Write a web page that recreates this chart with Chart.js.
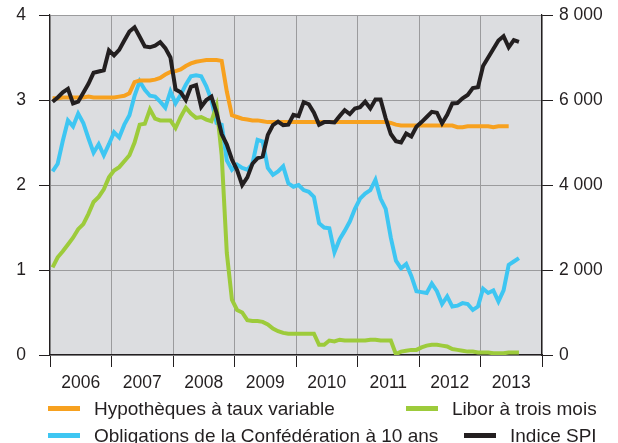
<!DOCTYPE html>
<html lang="fr">
<head>
<meta charset="UTF-8">
<title>Taux d'intérêt et indice SPI</title>
<style>
    body {
        margin: 0;
        background: #fff;
        font-family: 'Liberation Sans', Arial, sans-serif;
    }
    #wrap {
        position: relative;
        width: 618px;
        height: 443px;
    }
    .item {
        position: absolute;
        height: 22px;
        line-height: 22px;
        font-size: 19px;
        color: #231f20;
        white-space: nowrap;
    }
    .item span {
        display: inline-block;
        width: 32px;
        height: 5px;
        vertical-align: middle;
        margin-right: 14px;
        margin-top: -3px;
    }
</style>
<script src="https://cdn.jsdelivr.net/npm/chart.js"></script>
</head>
<body>
<div id="wrap">
    <canvas id="chart" width="618" height="443"></canvas>
    <div class="item" style="left:48px; top:398px;"><span style="background:#f7a11f"></span>Hypothèques à taux variable</div>
    <div class="item" style="left:406px; top:398px;"><span style="background:#9dcb3b"></span>Libor à trois mois</div>
    <div class="item" style="left:48px; top:425px;"><span style="background:#3ec6f2"></span>Obligations de la Confédération à 10 ans</div>
    <div class="item" style="left:464px; top:425px;"><span style="background:#231f20"></span>Indice SPI</div>
</div>

<script>
// monthly values, Jan 2006 onwards
const years = ['2006', '2007', '2008', '2009', '2010', '2011', '2012', '2013'];

const mortgage = [
    3.02, 3.02, 3.03, 3.03, 3.03, 3.03, 3.03, 3.04, 3.03, 3.03,
    3.03, 3.03, 3.03, 3.04, 3.05, 3.08, 3.21, 3.23, 3.23, 3.23,
    3.24, 3.26, 3.30, 3.33, 3.34, 3.36, 3.40, 3.43, 3.45, 3.46,
    3.47, 3.47, 3.47, 3.46, 3.10, 2.82, 2.80, 2.78, 2.77, 2.76,
    2.76, 2.75, 2.74, 2.74, 2.74, 2.74, 2.74, 2.74, 2.74, 2.74,
    2.74, 2.74, 2.74, 2.74, 2.74, 2.74, 2.74, 2.74, 2.74, 2.74,
    2.74, 2.74, 2.74, 2.74, 2.74, 2.74, 2.73, 2.71, 2.70, 2.70,
    2.70, 2.70, 2.70, 2.70, 2.70, 2.70, 2.70, 2.70, 2.70, 2.68,
    2.68, 2.69, 2.69, 2.69, 2.69, 2.69, 2.68, 2.69, 2.69, 2.69
];

const libor = [
    1.03, 1.15, 1.22, 1.30, 1.38, 1.48, 1.54, 1.66, 1.80, 1.86,
    1.95, 2.09, 2.17, 2.21, 2.28, 2.35, 2.50, 2.71, 2.72, 2.89,
    2.78, 2.76, 2.76, 2.76, 2.67, 2.80, 2.91, 2.84, 2.79, 2.80,
    2.77, 2.75, 2.93, 2.35, 1.20, 0.65, 0.53, 0.50, 0.41, 0.40,
    0.40, 0.39, 0.36, 0.31, 0.28, 0.26, 0.25, 0.25, 0.25, 0.25,
    0.25, 0.25, 0.12, 0.12, 0.17, 0.16, 0.18, 0.17, 0.17, 0.17,
    0.17, 0.17, 0.18, 0.18, 0.17, 0.17, 0.17, 0.01, 0.04, 0.05,
    0.06, 0.06, 0.09, 0.11, 0.12, 0.12, 0.11, 0.10, 0.07, 0.06,
    0.05, 0.04, 0.04, 0.03, 0.03, 0.03, 0.02, 0.02, 0.02, 0.03,
    0.03, 0.03
];

const bonds = [
    2.16, 2.25, 2.52, 2.76, 2.69, 2.84, 2.73, 2.55, 2.38, 2.48,
    2.35, 2.48, 2.62, 2.56, 2.71, 2.82, 3.05, 3.22, 3.12, 3.05,
    3.04, 2.98, 2.91, 3.10, 2.96, 3.06, 3.18, 3.28, 3.29, 3.28,
    3.16, 3.00, 2.73, 2.71, 2.29, 2.18, 2.24, 2.20, 2.18, 2.25,
    2.53, 2.51, 2.20, 2.12, 2.16, 2.22, 2.02, 1.98, 2.00, 1.94,
    1.92, 1.86, 1.55, 1.50, 1.49, 1.21, 1.36, 1.46, 1.57, 1.72,
    1.84, 1.90, 1.94, 2.06, 1.84, 1.72, 1.38, 1.11, 1.02, 1.07,
    0.93, 0.75, 0.74, 0.73, 0.84, 0.75, 0.60, 0.69, 0.57, 0.58,
    0.61, 0.60, 0.53, 0.57, 0.78, 0.73, 0.76, 0.63, 0.76, 1.06,
    1.10, 1.14
];

const spi = [
    5960, 6060, 6180, 6260, 5920, 5960, 6170, 6380, 6640, 6670,
    6700, 7170, 7050, 7180, 7400, 7610, 7710, 7490, 7260, 7240,
    7280, 7360, 7220, 7000, 6250, 6180, 6000, 6310, 6350, 5840,
    6000, 6080, 5700, 5200, 4950, 4600, 4350, 4000, 4180, 4500,
    4630, 4670, 5180, 5410, 5490, 5410, 5420, 5650, 5620, 5950,
    5900, 5700, 5420, 5480, 5480, 5470, 5620, 5760, 5670, 5800,
    5830, 5960, 5800, 6010, 6010, 5570, 5200, 5030, 5000, 5210,
    5140, 5370, 5480, 5600, 5720, 5700, 5450, 5650, 5920, 5930,
    6040, 6120, 6280, 6300, 6800, 7000, 7200, 7400, 7500, 7240,
    7410, 7370
];

const leftTicks = [0, 1, 2, 3, 4];
const rightTicks = [0, 2000, 4000, 6000, 8000];

// month index -> point
function toPoints(arr) {
    return arr.map((v, i) => ({ x: i, y: v }));
}

const yearBounds = [];
for (let i = 0; i <= years.length; i++) yearBounds.push(i * 12 - 0.5);

const plotBg = {
    id: 'plotBg',
    beforeDraw(chart) {
        const a = chart.chartArea;
        const ctx = chart.ctx;
        ctx.save();
        ctx.fillStyle = '#dcdde0';
        ctx.fillRect(a.left, a.top, a.right - a.left, a.bottom - a.top);
        ctx.restore();
    }
};

const tickFont = { family: "'Liberation Sans', Arial, sans-serif", size: 17.5 };

function line(label, data, color, axis, order) {
    return {
        label: label,
        data: toPoints(data),
        borderColor: color,
        backgroundColor: color,
        borderWidth: 4,
        pointRadius: 0,
        tension: 0,
        yAxisID: axis,
        order: order
    };
}

// keep tick label overhang from pushing the plot down
function fixVertical(width) {
    return function (scale) {
        scale.width = width;
        scale.paddingTop = 0;
        scale.paddingBottom = 0;
    };
}

new Chart(document.getElementById('chart'), {
    type: 'line',
    data: {
        datasets: [
            line('Indice SPI', spi, '#231f20', 'y1', 0),
            line('Hypothèques à taux variable', mortgage, '#f7a11f', 'y', 1),
            line('Libor à trois mois', libor, '#9dcb3b', 'y', 2),
            line('Obligations de la Confédération à 10 ans', bonds, '#3ec6f2', 'y', 3)
        ]
    },
    options: {
        responsive: false,
        animation: false,
        layout: { padding: { top: 15, left: 0, right: 0, bottom: 0 } },
        plugins: { legend: { display: false }, tooltip: { enabled: false } },
        scales: {
            x: {
                type: 'linear',
                min: yearBounds[0],
                max: yearBounds[yearBounds.length - 1],
                afterBuildTicks(scale) {
                    scale.ticks = yearBounds.map(v => ({ value: v }));
                },
                afterFit(scale) {
                    scale.height = 88;
                    scale.paddingLeft = 0;
                    scale.paddingRight = 0;
                },
                grid: { color: '#9b9b9d', lineWidth: 1, tickLength: 12, tickColor: '#231f20' },
                border: { color: '#231f20', width: 1.2 },
                ticks: {
                    autoSkip: false,
                    maxRotation: 0,
                    padding: 6,
                    labelOffset: 30.75,
                    color: '#231f20',
                    font: tickFont,
                    callback(value, index) { return years[index] || ''; }
                }
            },
            y: {
                position: 'left',
                min: 0,
                max: 4,
                afterBuildTicks(scale) {
                    scale.ticks = leftTicks.map(v => ({ value: v }));
                },
                afterFit: fixVertical(50),
                grid: { color: '#9b9b9d', lineWidth: 1, tickLength: 11, tickColor: '#231f20' },
                border: { color: '#231f20', width: 1.2 },
                ticks: { padding: 13, color: '#231f20', font: tickFont }
            },
            y1: {
                position: 'right',
                min: 0,
                max: 8000,
                afterBuildTicks(scale) {
                    scale.ticks = rightTicks.map(v => ({ value: v }));
                },
                afterFit: fixVertical(76),
                grid: { drawOnChartArea: false, tickLength: 11, color: '#231f20' },
                border: { color: '#231f20', width: 1.2 },
                ticks: {
                    padding: 6,
                    color: '#231f20',
                    font: tickFont,
                    callback(v) { return v === 0 ? '0' : (v / 1000) + ' 000'; }
                }
            }
        }
    },
    plugins: [plotBg]
});
</script>
</body>
</html>
